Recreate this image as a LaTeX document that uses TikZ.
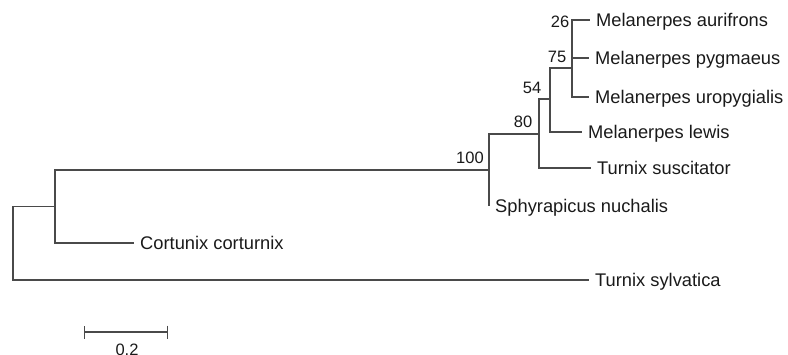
\documentclass[tikz,border=0pt]{standalone}
\usepackage{fontspec}
\setmainfont{Liberation Sans}
\usetikzlibrary{arrows.meta}
\definecolor{branch}{HTML}{4A4A4A}
\definecolor{txt}{HTML}{1A1A1A}
\begin{document}
\begin{tikzpicture}[x=1pt,y=-1pt,
  br/.style={draw=branch,line width=1.3pt},
  leaf/.style={anchor=west,font=\fontsize{18.3}{19}\selectfont,text=txt,
    text height=13pt,text depth=0pt,inner ysep=0pt,inner xsep=6pt},
  boot/.style={anchor=base,font=\fontsize{16.5}{18}\selectfont,text=txt,inner sep=0pt}]
\useasboundingbox (0,0) rectangle (788,354);
% internal nodes
\coordinate (r) at (13,243);
\coordinate (A) at (55,206.5);
\coordinate (n100) at (489,170);
\coordinate (n80) at (539,134);
\coordinate (n54) at (550,99);
\coordinate (n75) at (572,68);
\coordinate (n26) at (572,39);
% leaves
\node[leaf] (aur) at (590,20) {Melanerpes aurifrons};
\node[leaf] (pyg) at (589,58) {Melanerpes pygmaeus};
\node[leaf] (uro) at (589,97) {Melanerpes uropygialis};
\node[leaf] (lew) at (582,132) {Melanerpes lewis};
\node[leaf] (sus) at (591,168) {Turnix suscitator};
\node[leaf] (sph) at (489,206) {Sphyrapicus nuchalis};
\node[leaf] (cor) at (134,243) {Cortunix corturnix};
\node[leaf] (syl) at (589,280) {Turnix sylvatica};
% branches
\draw[br] (n26) |- (aur.west);
\draw[br] (n26) |- (pyg.west);
\draw[br] (n75) |- (n26);
\draw[br] (n75) |- (uro.west);
\draw[br] (n54) |- (n75);
\draw[br] (n54) |- (lew.west);
\draw[br] (n80) |- (n54);
\draw[br] (n80) |- (sus.west);
\draw[br] (n100) |- (n80);
\draw[br] (n100) |- (sph.west);
\draw[br] (A) |- (n100);
\draw[br] (A) |- (cor.west);
\draw[br] (r) |- (A);
\draw[br] (r) |- (syl.west);
% bootstrap values
\node[boot] (b26) at (560,27) {26};
\node[boot] (b75) at (557,62) {75};
\node[boot] (b54) at (532,93) {54};
\node[boot] (b80) at (523,127) {80};
\node[boot] (b100) at (470,163) {100};
% scale bar
\coordinate (s1) at (84,332);
\coordinate (s2) at (168,332);
\draw[br,{Bar[width=13pt,line width=1.3pt]}-{Bar[width=13pt,line width=1.3pt]}] (s1) -- (s2);
\node[boot] (sl) at (127,355) {0.2};
\end{tikzpicture}
\end{document}
